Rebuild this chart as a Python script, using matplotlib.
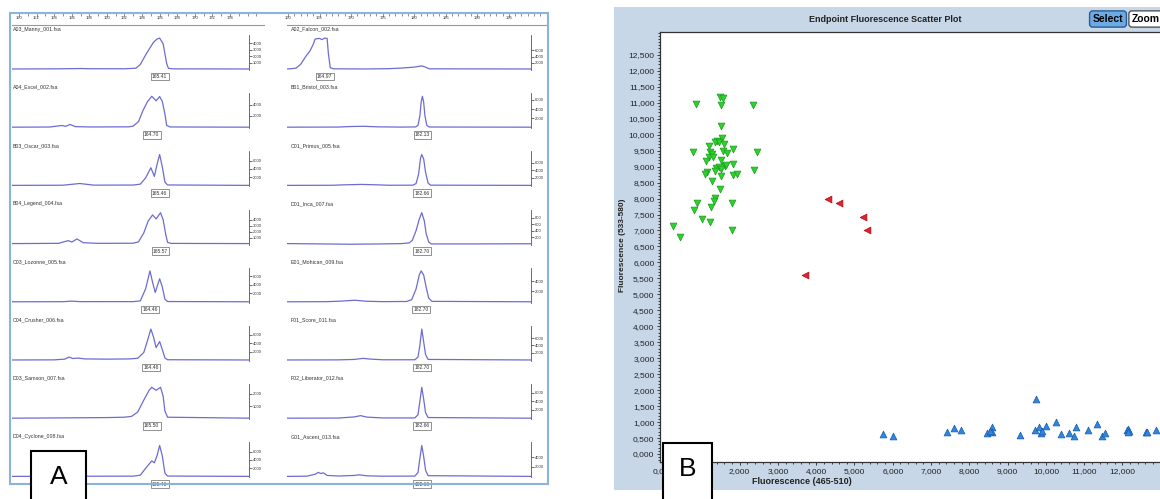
import numpy as np
import matplotlib.pyplot as plt
from matplotlib.patches import Rectangle
from matplotlib.ticker import MultipleLocator, FuncFormatter

plt.rcParams['font.family'] = ['Liberation Sans', 'DejaVu Sans']

# ---- panel A : electropherograms (bp, rfu) ----
manny = [(149.2, 0), (154, 20), (156, 50), (157, 70), (158, 40), (162, 30), (163.3, 120), (163.8, 700),
         (164.5, 2400), (165.3, 4150), (165.7, 4650), (166.0, 4800), (166.4, 3900), (166.8, 850),
         (167.0, 100), (167.5, 20), (176.2, 0)]
excel = [(149.2, 0), (153.5, 30), (154.9, 300), (155.3, 150), (155.8, 480), (156.4, 100), (158, 40),
         (162.5, 60), (163.0, 200), (163.6, 1000), (164.1, 2960), (164.6, 4500), (165.1, 5500),
         (165.6, 4700), (166.0, 5450), (166.3, 4600), (166.6, 2360), (166.8, 300), (167.2, 40), (176.2, 0)]
oscar = [(149.2, 0), (155, 40), (156.9, 450), (158.5, 60), (163, 80), (163.8, 300), (164.4, 1800),
         (165.0, 4270), (165.4, 2170), (165.7, 5000), (166.0, 7470), (166.3, 4500), (166.6, 800),
         (166.9, 100), (176.2, 0)]
legend = [(149.2, 0), (154.5, 40), (155.6, 500), (156.0, 250), (156.6, 780), (157.3, 150), (159, 40),
          (163, 60), (163.6, 300), (164.2, 1800), (164.7, 3800), (165.2, 4820), (165.6, 4150),
          (166.1, 5200), (166.4, 4000), (166.7, 1500), (166.9, 200), (167.3, 30), (176.2, 0)]
lozonne = [(149.2, 0), (155, 20), (156, 150), (157, 30), (163, 40), (163.8, 200), (164.4, 3000),
           (164.9, 7200), (165.2, 4500), (165.5, 2160), (165.7, 3500), (166.0, 5350), (166.3, 3500),
           (166.6, 600), (166.9, 60), (176.2, 0)]
crusher = [(149.2, 0), (154, 30), (155.2, 200), (155.7, 700), (156.1, 350), (156.7, 450), (157.5, 250),
           (160, 200), (162.5, 250), (163.5, 400), (164.2, 1800), (164.6, 4500), (165.0, 7360),
           (165.3, 5500), (165.6, 2950), (166.0, 4390), (166.3, 2500), (166.6, 500), (166.9, 60), (176.2, 0)]
samson = [(149.2, 0), (156, 30), (160, 50), (162, 80), (162.8, 150), (163.5, 500), (164.2, 1500),
          (164.8, 2300), (165.1, 2550), (165.6, 2300), (166.1, 2550), (166.4, 1800), (166.6, 600),
          (166.9, 80), (176.2, 0)]
cyclone = [(149.2, 0), (156, 30), (157, 100), (158, 40), (163, 60), (163.8, 300), (164.5, 2200),
           (165.1, 3750), (165.4, 3300), (165.7, 5000), (166.0, 7500), (166.3, 5000), (166.6, 800),
           (166.9, 80), (176.2, 0)]

falcon = [(159.8, 0), (160.5, 80), (161.3, 300), (162.0, 1500), (162.8, 4000), (163.5, 5900), (164.0, 8000),
          (164.3, 9700), (165.0, 9900), (165.4, 9500), (165.8, 10000), (166.2, 9900), (166.4, 5000),
          (166.7, 400), (167.2, 60), (172, 0), (176, 100), (178, 300), (180, 600), (181.2, 1000),
          (181.8, 600), (182.4, 50), (198.5, 0)]
bristol = [(159.8, 0), (168, 30), (170, 150), (172, 200), (174, 80), (178, 20), (180.2, 50), (180.6, 400),
           (180.9, 2500), (181.1, 5500), (181.3, 6800), (181.5, 5500), (181.7, 2500), (182.0, 400),
           (182.4, 40), (198.5, 0)]
primus = [(159.8, 0), (167, 30), (169, 150), (171.6, 260), (174, 150), (176, 40), (179.8, 50), (180.3, 500),
          (180.7, 3000), (181.0, 7200), (181.2, 8200), (181.5, 7000), (181.8, 3500), (182.2, 600),
          (182.6, 60), (198.5, 0)]
inca = [(159.8, 0), (165, -10), (170, -20), (175, -10), (178, 0), (179.2, 20), (179.7, 100), (180.3, 400),
        (180.8, 750), (181.2, 950), (181.6, 700), (181.9, 300), (182.3, 50), (182.7, -10), (190, -10),
        (198.5, -5)]
mohican = [(159.8, 0), (166, 20), (168, 100), (170.6, 300), (172.5, 100), (175, 30), (178.8, 60),
           (179.6, 400), (180.3, 2500), (180.8, 5200), (181.1, 6000), (181.5, 5200), (181.9, 2800),
           (182.3, 700), (182.8, 80), (198.5, 0)]
score = [(159.8, 0), (168, 30), (170.5, 150), (171.9, 450), (173, 250), (175, 60), (180.1, 60), (180.6, 800),
         (180.9, 4000), (181.2, 8500), (181.5, 5000), (181.8, 1500), (182.2, 150), (198.5, 0)]
liberator = [(159.8, 0), (168, 30), (170.5, 300), (171.5, 600), (172.5, 250), (175, 60), (180.1, 60),
             (180.6, 800), (180.9, 4000), (181.2, 7300), (181.5, 4500), (181.8, 1300), (182.2, 150),
             (198.5, 0)]
ascent = [(159.8, 0), (163, 40), (164.4, 500), (164.8, 850), (165.2, 600), (165.6, 750), (166.2, 200),
          (168, 80), (170.5, 200), (171.3, 330), (172.5, 120), (175, 40), (180.1, 60), (180.6, 800),
          (180.9, 3800), (181.2, 6500), (181.5, 4200), (181.8, 1300), (182.2, 150), (198.5, 0)]

left_names = ["A03_Manny_001.fsa", "A04_Excel_002.fsa", "B03_Oscar_003.fsa", "B04_Legend_004.fsa",
              "C03_Lozonne_005.fsa", "C04_Crusher_006.fsa", "D03_Samson_007.fsa", "D04_Cyclone_008.fsa"]
right_names = ["A02_Falcon_002.fsa", "B01_Bristol_003.fsa", "C01_Primus_005.fsa", "D01_Inca_007.fsa",
               "E01_Mohican_009.fsa", "F01_Score_011.fsa", "F02_Liberator_012.fsa", "G01_Ascent_013.fsa"]
left_peaks = ["165.41", "164.70", "165.46", "165.57", "164.46", "164.46", "165.50", "165.46"]
right_peaks = ["164.97", "182.13", "182.66", "182.70", "182.70", "182.70", "182.66", "182.66"]
left_traces = [manny, excel, oscar, legend, lozonne, crusher, samson, cyclone]
right_traces = [falcon, bristol, primus, inca, mohican, score, liberator, ascent]
left_ticks = [[1000, 2000, 3000, 4000], [2000, 4000], [2000, 4000, 6000], [1000, 2000, 3000, 4000],
              [2000, 4000, 6000], [2000, 4000, 6000], [1000, 2000], [2000, 4000, 6000]]
right_ticks = [[2000, 4000, 6000], [2000, 4000, 6000], [2000, 4000, 6000], [200, 400, 600, 800],
               [2000, 4000], [2000, 4000, 6000], [2000, 4000, 6000], [2000, 4000]]
left_scale = [150, 152, 154, 156, 158, 160, 162, 164, 166, 168, 170, 172, 174]
right_scale = [160, 165, 170, 175, 180, 185, 190, 195]

# ---- panel B : endpoint scatter ----
green_x = [862, 1497, 1559, 1523, 2358, 1506, 1540, 1419, 1358, 1471, 1601, 1210, 783, 1836, 2446, 1575,
           1663, 1227, 1271, 1210, 1314, 1123, 1506, 1836, 1619, 1650, 1384, 1454, 1358, 1506, 2376, 1157,
           1105, 1506, 1819, 1941, 1271, 1488, 1358, 1332, 879, 1793, 1245, 809, 1018, 1227, 270, 1793, 444]
green_y = [10952, 11181, 11160, 10941, 10921, 10272, 9907, 9813, 9762, 9762, 9709, 9646, 9469, 9543, 9458,
           9500, 9417, 9469, 9385, 9313, 9313, 9166, 9208, 9082, 9020, 9050, 8946, 8977, 8873, 8936, 8894,
           8841, 8769, 8706, 8727, 8769, 8560, 8290, 8007, 7934, 7871, 7851, 7726, 7642, 7370, 7266, 7141,
           7015, 6786]
red_x = [4316, 4587, 5214, 5318, 3700]
red_y = [7977, 7871, 7433, 7015, 5597]
blue_x = [5749, 6003, 7428, 7606, 7792, 8473, 8594, 8600, 8540, 9321, 9731, 9713, 9826, 9862, 9888, 10000,
          10261, 10384, 10609, 10783, 10731, 11105, 11323, 11454, 11540, 12130, 12150, 12170, 12140, 12610,
          12650, 12872]
blue_y = [626, 574, 699, 804, 752, 668, 856, 700, 720, 585, 1717, 752, 836, 668, 720, 887, 1002, 626, 647,
          856, 574, 752, 940, 574, 668, 740, 780, 720, 700, 690, 680, 752]
hidden_x_labels = [1000]  # covered by the "B" box in the picture

W, H = 1160, 499
fig = plt.figure(figsize=(W / 100, H / 100), dpi=100)


def box(x0, y0, x1, y1):
    # pixel box (top-left origin) -> figure rect
    return [x0 / W, 1 - y1 / H, (x1 - x0) / W, (y1 - y0) / H]


def bp_left(px):
    return 150 + (px - 19) / 8.79


def bp_right(px):
    return 160 + (px - 288) / 6.31


TRACE = '#6c6cd2'

fig.add_artist(Rectangle((10 / W, 1 - 484 / H), 538 / W, 471 / H, transform=fig.transFigure,
                         fill=False, ec='#8db2dc', lw=1.5))


def top_scale(x0, x1, to_bp, ticks, minor):
    ax = fig.add_axes(box(x0, 13, x1, 25))
    ax.patch.set_visible(False)
    ax.set_xlim(to_bp(x0), to_bp(x1))
    ax.set_ylim(0, 1)
    ax.set_yticks([])
    for s in ['top', 'left', 'right']:
        ax.spines[s].set_visible(False)
    ax.spines['bottom'].set_color('#999999')
    ax.spines['bottom'].set_linewidth(0.8)
    ax.set_xticks(ticks)
    ax.xaxis.set_minor_locator(MultipleLocator(minor))
    ax.tick_params(axis='x', which='both', top=True, bottom=False, direction='in', length=3,
                   width=0.5, color='#666666', labelsize=3, pad=-6.5, labelcolor='#333333')
    ax.tick_params(axis='x', which='minor', length=1.8)


def draw_row(x0, x1, to_bp, base, name, name_x, peak, trace, ticks):
    ax = fig.add_axes(box(x0, base - 34, x1, base + 1))
    ax.patch.set_visible(False)
    bp = [p[0] for p in trace]
    rfu = [p[1] for p in trace]
    ax.plot(bp, rfu, color=TRACE, lw=0.9)
    top = max(rfu) * 1.1
    ax.set_xlim(to_bp(x0), to_bp(x1))
    ax.set_ylim(-0.03 * top, top)
    for s in ['top', 'left', 'bottom']:
        ax.spines[s].set_visible(False)
    ax.spines['right'].set_color('#555555')
    ax.spines['right'].set_linewidth(0.6)
    ax.set_xticks([])
    ax.yaxis.tick_right()
    ax.set_yticks(ticks)
    ax.tick_params(axis='y', labelsize=3, length=2, width=0.5, pad=1, colors='#333333')
    ax.annotate(peak, xy=(bp[int(np.argmax(rfu))], 0), xytext=(0, -5.5), textcoords='offset points',
                ha='center', va='center', fontsize=3.6, color='#333333', annotation_clip=False,
                bbox=dict(boxstyle='square,pad=0.25', fc='white', ec='#666666', lw=0.5))
    fig.text(name_x / W, 1 - (base - 40) / H, name, fontsize=3.8, color='#333333', va='center')


top_scale(12, 264, bp_left, left_scale, 1)
top_scale(287, 548, bp_right, right_scale, 1)
for i in range(8):
    base = 69 + 58.2 * i
    draw_row(12, 249, bp_left, base, left_names[i], 13, left_peaks[i], left_traces[i], left_ticks[i])
    draw_row(287, 531, bp_right, base, right_names[i], 291, right_peaks[i], right_traces[i], right_ticks[i])

# ---- panel B ----
fig.add_artist(Rectangle((614 / W, 1 - 490 / H), 546 / W, 483 / H, transform=fig.transFigure,
                         fc='#c8d7e8', ec='none', zorder=-1))
ax = fig.add_axes(box(660, 32, 1160, 462))
ax.scatter(green_x, green_y, marker='v', s=24, c='#30d030', edgecolors='#179e17', linewidths=0.5, zorder=3)
ax.scatter(red_x, red_y, marker='<', s=24, c='#e6202c', edgecolors='#a81018', linewidths=0.5, zorder=3)
ax.scatter(blue_x, blue_y, marker='^', s=24, c='#2f86e0', edgecolors='#1a5aa8', linewidths=0.5, zorder=3)
ax.set_xlim(-80, 12980)
ax.set_ylim(-250, 13216)
ax.set_xticks(np.arange(0, 12001, 1000))
ax.set_yticks(np.arange(0, 12501, 500))
ax.xaxis.set_minor_locator(MultipleLocator(200))
ax.yaxis.set_minor_locator(MultipleLocator(100))


def thousands(v, p):
    return f"{int(v) // 1000},{int(v) % 1000:03d}"


ax.xaxis.set_major_formatter(FuncFormatter(lambda v, p: '' if int(v) in hidden_x_labels else thousands(v, p)))
ax.yaxis.set_major_formatter(FuncFormatter(thousands))
ax.spines['right'].set_visible(False)
for s in ['top', 'left', 'bottom']:
    ax.spines[s].set_color('#333333')
    ax.spines[s].set_linewidth(0.9)
ax.tick_params(which='both', labelsize=6, length=2.5, width=0.6, pad=1.5, colors='#222222')
ax.tick_params(which='minor', length=1.3)

fig.text(885 / W, 1 - 20 / H, 'Endpoint Fluorescence Scatter Plot', fontsize=6.5, fontweight='bold',
         ha='center', va='center', color='#222222')
fig.text(622 / W, 1 - 245 / H, 'Fluorescence (533-580)', fontsize=6, fontweight='bold', rotation=90,
         ha='center', va='center', color='#222222')
fig.text(802 / W, 1 - 481 / H, 'Fluorescence (465-510)', fontsize=6.5, fontweight='bold',
         ha='center', va='center', color='#222222')
fig.text(1108 / W, 1 - 19 / H, 'Select', fontsize=7.5, fontweight='bold', ha='center', va='center',
         bbox=dict(boxstyle='round,pad=0.3', fc='#6eaae2', ec='#2a5c96', lw=1))
fig.text(1146 / W, 1 - 19 / H, 'Zoom', fontsize=7.5, fontweight='bold', ha='center', va='center',
         bbox=dict(boxstyle='round,pad=0.3', fc='white', ec='#555555', lw=1))

# ---- panel letters ----
for x0, y0, x1, letter in [(31, 451, 86, 'A'), (663, 443, 712, 'B')]:
    fig.add_artist(Rectangle((x0 / W, -0.02), (x1 - x0) / W, 0.02 + 1 - y0 / H, transform=fig.transFigure,
                             fc='white', ec='black', lw=1.5, zorder=10))
    fig.text((x0 + x1) / 2 / W, 1 - (y0 + 26) / H, letter, fontsize=19, ha='center', va='center', zorder=11)

fig.savefig('out.png', dpi=100)
